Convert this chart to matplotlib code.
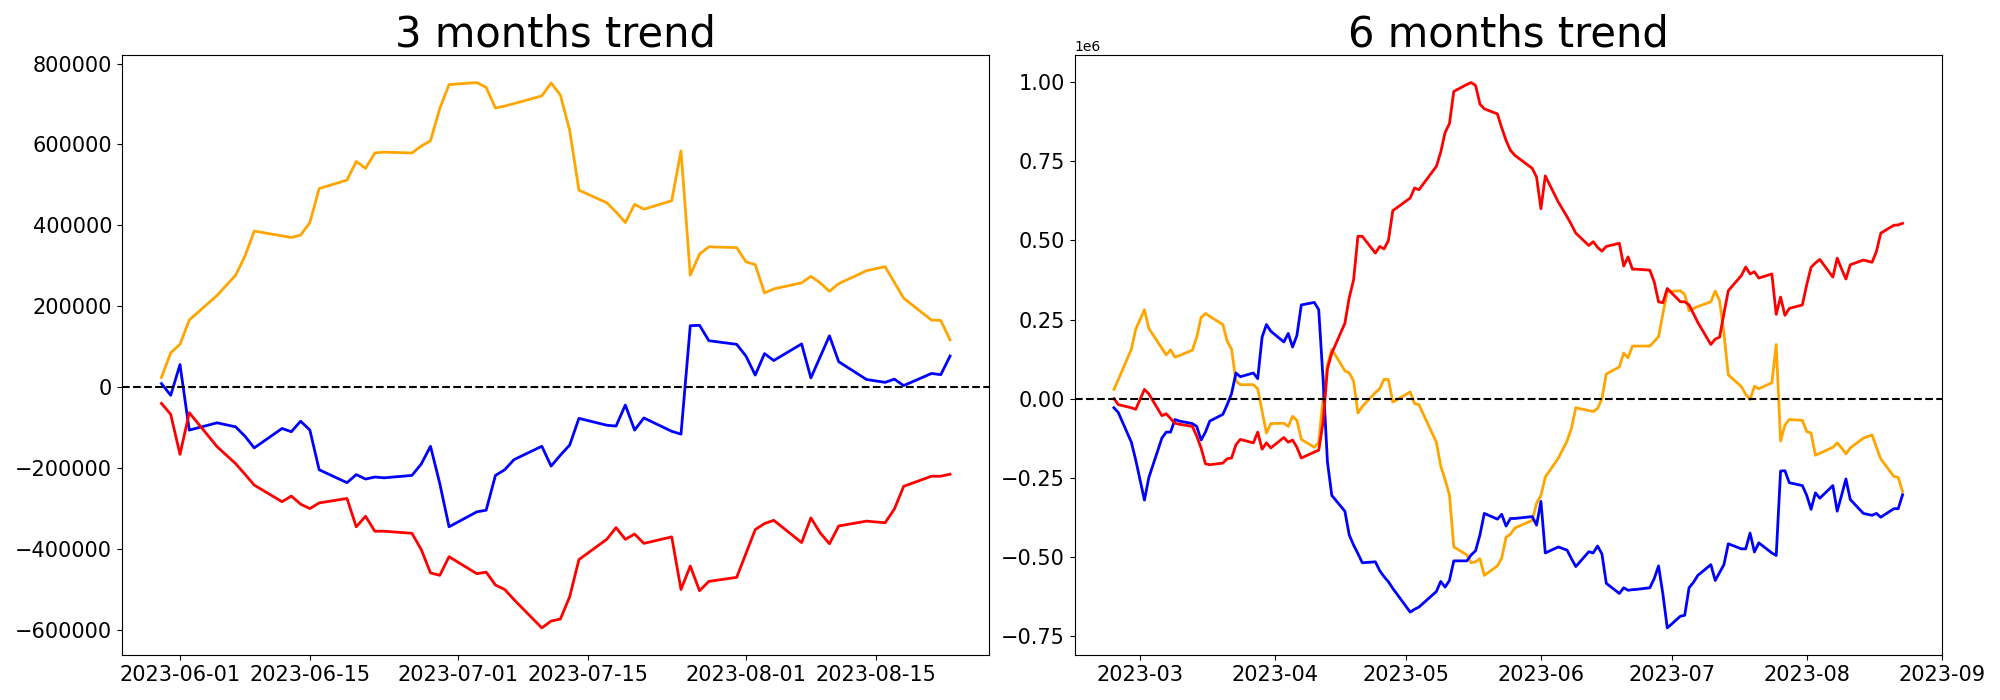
import matplotlib
matplotlib.use('Agg')
import numpy as np
import pandas as pd
import matplotlib.pyplot as plt

# KRX closed days inside the window
krx_holidays = ['2023-03-01', '2023-05-01', '2023-05-05', '2023-05-29',
                '2023-06-06', '2023-08-15']

dates_6m = pd.bdate_range('2023-02-23', '2023-08-23', freq='C', holidays=krx_holidays)
dates_3m = dates_6m[dates_6m >= '2023-05-30']

# cumulative values, in thousands
orange_3m = [24, 85,
             106, 166, 227, 277, 324, 386, 374, 370, 376, 407, 491, 512, 558, 541, 579, 581, 579, 596, 609, 689, 748,
             753, 741, 690, 695, 701, 720, 752, 722, 635, 487, 456, 433, 407, 452, 440, 461, 584, 277, 329, 347, 345,
             310, 303, 233, 243, 258, 274, 258, 237, 256, 288, 298, 259, 220, 166, 165, 117]
blue_3m = [9, -20,
           56, -106, -88, -98, -121, -150, -102, -110, -84, -106, -204, -236, -216, -227, -222, -224, -218, -190, -146, -238, -345,
           -308, -304, -218, -204, -179, -146, -195, -168, -143, -77, -94, -96, -44, -106, -76, -109, -116, 152, 153, 115, 106,
           77, 30, 83, 66, 107, 23, 75, 127, 63, 19, 12, 20, 4, 34, 31, 77]
red_3m = [-40, -67,
          -166, -63, -147, -189, -215, -242, -283, -269, -289, -300, -286, -275, -345, -319, -356, -356, -361, -401, -459, -465, -419,
          -461, -457, -489, -500, -525, -595, -578, -573, -518, -426, -376, -347, -376, -363, -386, -370, -500, -442, -503, -480, -470,
          -411, -352, -337, -329, -384, -323, -360, -387, -343, -331, -335, -301, -245, -220, -220, -215]

orange_6m = [29, 60, 156, 219,
             281, 222, 159, 138, 154, 131, 136, 153, 194, 256, 269, 260, 234, 181, 156, 56, 44, 44, 31, -40, -109, -79,
             -78, -88, -56, -69, -129, -154, -138, 0, 106, 156, 88, 81, 56, -46, -25, 19, 31, 61, 60, -11,
             21, -16, -19, -138, -213, -256, -304, -469, -494, -519, -516, -506, -559, -529, -504, -438, -429, -409, -385, -331,
             -306, -248, -188, -134, -94, -29, -38, -41, -31, 0, 78, 100, 144, 129, 166, 166, 166, 181, 196, 269, 338,
             341, 329, 278, 285, 291, 306, 340, 310, 206, 75, 38, 13, -3, 39, 31, 50, 171, -134, -84, -66, -69,
             -104, -109, -179, -173, -154, -140, -156, -175, -156, -125, -115, -154, -191, -246, -249, -294]
red_6m = [0, -19, -29, -34,
          29, 15, -54, -48, -63, -78, -81, -88, -119, -156, -206, -209, -204, -190, -188, -146, -129, -140, -106, -160, -140, -156,
          -123, -138, -131, -154, -188, -169, -163, -75, 94, 144, 238, 319, 375, 513, 513, 460, 481, 473, 500, 594,
          634, 666, 660, 734, 779, 841, 869, 971, 993, 999, 990, 931, 916, 900, 856, 816, 785, 769, 728, 700,
          600, 704, 621, 575, 550, 523, 484, 496, 478, 466, 481, 491, 419, 448, 409, 409, 406, 369, 306, 303, 348,
          306, 306, 296, 269, 241, 171, 188, 194, 269, 341, 389, 416, 394, 401, 381, 394, 266, 321, 263, 285, 296,
          360, 415, 429, 440, 384, 444, 410, 378, 423, 438, 431, 465, 523, 548, 549, 554]
blue_6m = [-29, -44, -138, -194,
           -321, -250, -125, -106, -106, -66, -71, -79, -88, -131, -106, -71, -50, -19, 16, 81, 69, 81, 63, 194, 234, 213,
           179, 206, 163, 200, 296, 304, 281, 60, -200, -306, -356, -431, -463, -490, -519, -516, -544, -563, -579, -600,
           -675, -666, -659, -610, -578, -596, -575, -513, -513, -494, -481, -431, -363, -381, -366, -403, -379, -379, -373, -400,
           -325, -488, -469, -479, -506, -531, -484, -488, -466, -491, -584, -616, -598, -606, -604, -603, -598, -569, -529, -619, -725,
           -688, -685, -598, -581, -559, -525, -575, -550, -525, -459, -475, -475, -425, -485, -456, -488, -496, -229, -228, -266, -275,
           -306, -350, -298, -315, -275, -356, -306, -254, -319, -363, -369, -363, -375, -348, -348, -304]

panels = [
    ("3 months trend", dates_3m, orange_3m, blue_3m, red_3m),
    ("6 months trend", dates_6m, orange_6m, blue_6m, red_6m),
]

fig, axes = plt.subplots(1, 2, figsize=(20, 7), dpi=100)
fig.subplots_adjust(left=0.061, right=0.971, top=0.921, bottom=0.064, wspace=0.098)

for ax, (title, dates, orange, blue, red) in zip(axes, panels):
    x = dates.to_pydatetime()
    ax.plot(x, np.array(orange) * 1e3, color='orange', linewidth=2)
    ax.plot(x, np.array(blue) * 1e3, color='blue', linewidth=2)
    ax.plot(x, np.array(red) * 1e3, color='red', linewidth=2)
    ax.axhline(0, color='black', linestyle='--', linewidth=1.5)
    ax.set_title(title, fontsize=30)
    ax.tick_params(labelsize=15)

fig.savefig('out.png')
